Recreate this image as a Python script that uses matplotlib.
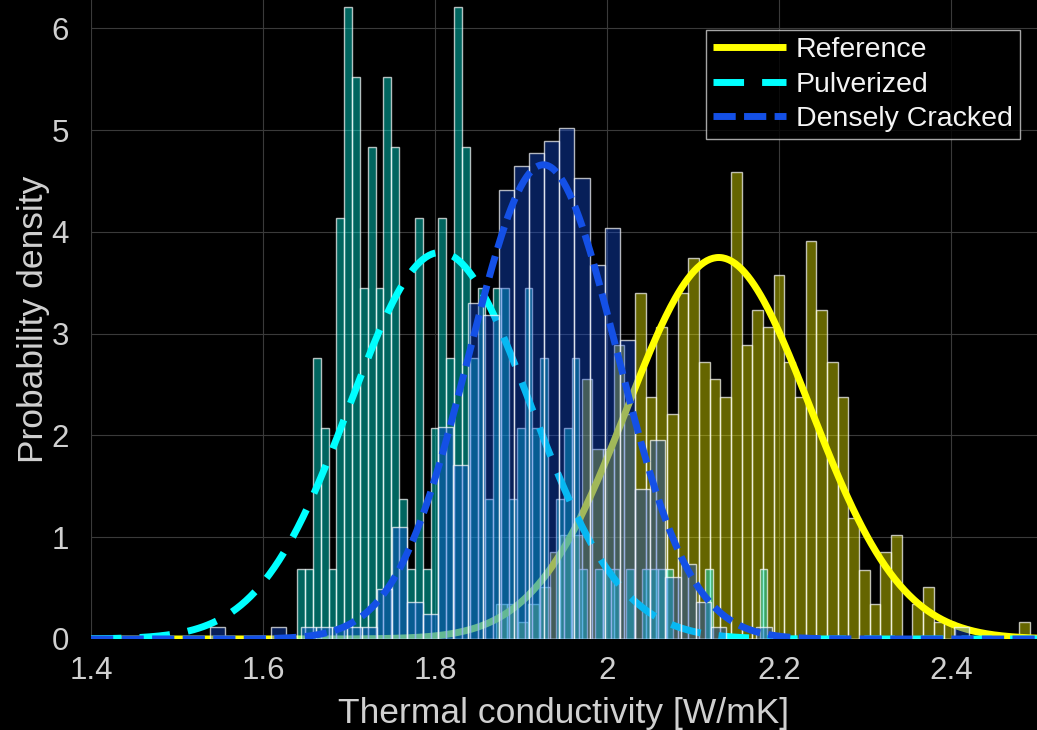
import numpy as np
import matplotlib.pyplot as plt

plt.rcParams['font.family'] = ['Liberation Sans', 'DejaVu Sans']

# ---- histogram data (counts per bin)
# Reference
ref_start = 1.8714
ref_width = 0.0124
ref_n = 474
ref_counts = np.array([2, 2, 1, 2, 3, 5, 6, 6, 15, 11, 11, 17, 13,
                       20, 14, 18, 13, 20, 22, 16, 15, 14, 27, 17, 19, 18, 21,
                       16, 14, 23, 19, 16, 14, 7, 4, 2, 5, 6, 0, 2, 3, 1, 1,
                       0, 0, 0, 0, 0, 0, 1])

# Pulverized
pul_start = 1.6399
pul_width = 0.00911
pul_n = 159
pul_counts = np.array([1, 1, 4, 3, 1, 6, 9, 8, 5, 7, 5, 8, 7, 2, 1, 6, 1, 3, 6, 4,
                       9, 7, 4, 5, 2, 5, 5, 2, 3, 5, 3, 4, 0, 2, 3, 4, 1, 0, 1, 1,
                       1, 0, 1, 0, 1, 1, 1, 1, 0, 0, 0, 0, 1, 0, 0, 0, 0, 0, 0, 1])

# Densely cracked
den_start = 1.5387
den_width = 0.01764
den_n = 463
den_counts = np.array([1, 0, 0, 0, 1, 0, 1, 1, 1, 1, 1, 4, 9, 3, 2, 17, 14, 27, 26,
                       36, 38, 39, 40, 41, 37, 30, 33, 24, 12, 16, 5, 6, 3, 1, 0, 0,
                       1, 0, 0, 0, 0, 0, 0, 0, 0, 0, 0, 0, 0, 1])

# normal fits (mean, std)
ref_fit = (2.130, 0.1064)
pul_fit = (1.806, 0.1050)
den_fit = (1.926, 0.0856)

labels = ['Reference', 'Pulverized', 'Densely Cracked']

def normpdf(x, mu, sd):
    return np.exp(-0.5 * ((x - mu) / sd) ** 2) / (sd * np.sqrt(2 * np.pi))

fig = plt.figure(figsize=(10.37, 7.30), dpi=100, facecolor='black')
ax = fig.add_axes([91 / 1037, 91 / 730, 946 / 1037, 639 / 730])
ax.set_facecolor('black')

xx = np.linspace(1.4, 2.5, 600)
edge = (1, 1, 1, 0.7)

def draw_hist(start, width, counts, n, face, z):
    edges = start + width * np.arange(len(counts) + 1)
    centers = edges[:-1] + width / 2
    # pdf normalisation: count / (N * bin width)
    ax.hist(centers, bins=edges, weights=counts / (n * width),
            facecolor=face, edgecolor=edge, linewidth=1.0, zorder=z)

draw_hist(ref_start, ref_width, ref_counts, ref_n, (1, 1, 0, 0.4), 2)
ax.plot(xx, normpdf(xx, *ref_fit), color='#ffff00', lw=5, zorder=3,
        label=labels[0], solid_capstyle='butt')

draw_hist(pul_start, pul_width, pul_counts, pul_n, (0, 1, 0.94, 0.4), 4)
ax.plot(xx, normpdf(xx, *pul_fit), color='#00ffff', lw=5, zorder=5,
        linestyle=(0, (4.4, 2.6)), dash_capstyle='butt', label=labels[1])

draw_hist(den_start, den_width, den_counts, den_n, (0.08, 0.31, 0.88, 0.4), 6)
ax.plot(xx, normpdf(xx, *den_fit), color='#1450e6', lw=5, zorder=7,
        linestyle=(0, (3.2, 1.2)), dash_capstyle='butt', label=labels[2])

ax.set_xlim(1.4, 2.5)
ax.set_ylim(0, 6.28)
ax.set_xticks([1.4, 1.6, 1.8, 2.0, 2.2, 2.4])
ax.set_xticklabels(['1.4', '1.6', '1.8', '2', '2.2', '2.4'])
ax.set_yticks(range(0, 7))

ax.grid(True, color='#3a3a3a', linewidth=0.8)
ax.set_axisbelow(True)
for s in ax.spines.values():
    s.set_visible(False)
ax.tick_params(colors='#d0d0d0', labelsize=22.5, length=0)
ax.tick_params(axis='x', pad=12)
ax.tick_params(axis='y', pad=16)
ax.set_xlabel('Thermal conductivity [W/mK]', color='#d0d0d0', fontsize=25.5, labelpad=8)
ax.set_ylabel('Probability density', color='#d0d0d0', fontsize=25.5)
ax.yaxis.set_label_coords(-0.043, 0.5)

leg = ax.legend(loc='upper right', bbox_to_anchor=(0.982, 0.953), borderaxespad=0,
                fontsize=20.5, frameon=True, fancybox=False, facecolor='black',
                edgecolor='#d0d0d0', handlelength=2.55, handletextpad=0.35,
                labelspacing=0.3, borderpad=0.25)
leg.get_frame().set_linewidth(1.0)
for t in leg.get_texts():
    t.set_color('#f4f4f4')

fig.savefig('out.png', dpi=100, facecolor='black')
